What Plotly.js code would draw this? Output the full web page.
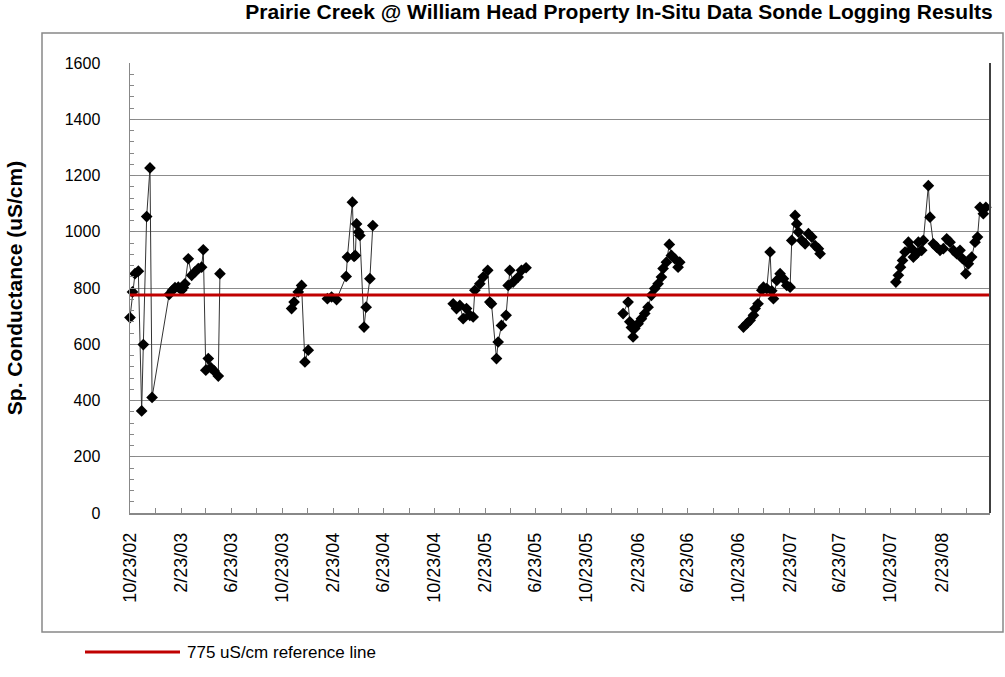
<!DOCTYPE html>
<html>
<head>
<meta charset="utf-8">
<script src="https://cdn.plot.ly/plotly-3.0.1.min.js"></script>
<style>
  html, body { margin: 0; padding: 0; background: #ffffff; }
  #chart { width: 1005px; height: 677px; }
</style>
</head>
<body>
<div id="chart"></div>
<script>
// ---- Data ----
const chartTitle = 'Prairie Creek @ William Head Property In-Situ Data Sonde Logging Results';
const yTitle = 'Sp. Conductance (uS/cm)';
const refLabel = '775 uS/cm reference line';
const refValue = 775;

const xStart = '2002-10-23';
const xEnd = '2008-06-18';

const tickDates = ['2002-10-23','2003-02-23','2003-06-23','2003-10-23','2004-02-23','2004-06-23',
  '2004-10-23','2005-02-23','2005-06-23','2005-10-23','2006-02-23','2006-06-23',
  '2006-10-23','2007-02-23','2007-06-23','2007-10-23','2008-02-23'];
const tickLabels = ['10/23/02','2/23/03','6/23/03','10/23/03','2/23/04','6/23/04',
  '10/23/04','2/23/05','6/23/05','10/23/05','2/23/06','6/23/06',
  '10/23/06','2/23/07','6/23/07','10/23/07','2/23/08'];
const minorDates = ['2002-12-23','2003-04-23','2003-08-23','2003-12-23','2004-04-23','2004-08-23',
  '2004-12-23','2005-04-23','2005-08-23','2005-12-23','2006-04-23','2006-08-23',
  '2006-12-23','2007-04-23','2007-08-23','2007-12-23','2008-04-23'];

const dates2002 = ['2002-10-23','2002-10-29','2002-11-04','2002-11-12','2002-11-20','2002-11-24',
  '2002-12-02','2002-12-10','2002-12-15','2003-01-25','2003-02-02','2003-02-08','2003-02-16',
  '2003-02-24','2003-02-28','2003-03-04','2003-03-12','2003-03-20','2003-03-28','2003-04-05',
  '2003-04-13','2003-04-17','2003-04-23','2003-04-29','2003-05-05','2003-05-13','2003-05-23','2003-05-27'];
const values2002 = [695, 786, 851, 860, 363, 599, 1054, 1227, 411, 777, 792, 801, 803,
  792, 801, 815, 904, 845, 857, 869, 874, 936, 508, 549, 517, 505, 487, 851];

const dates2003 = ['2003-11-15','2003-11-21','2003-12-01','2003-12-09','2003-12-17','2003-12-25'];
const values2003 = [727, 750, 786, 809, 537, 579];

const dates2004 = ['2004-02-09','2004-02-19','2004-03-02','2004-03-25','2004-03-28','2004-04-09',
  '2004-04-13','2004-04-16','2004-04-19','2004-04-24','2004-04-27','2004-05-07','2004-05-12',
  '2004-05-21','2004-05-28'];
const values2004 = [762, 768, 759, 841, 910, 1105, 912, 916, 1028, 999, 987, 661, 732, 833, 1022];

const dates2005 = ['2004-12-07','2004-12-15','2004-12-23','2004-12-31','2005-01-08','2005-01-16',
  '2005-01-24','2005-01-28','2005-02-09','2005-02-17','2005-02-28','2005-03-05','2005-03-09',
  '2005-03-21','2005-03-25','2005-04-02','2005-04-13','2005-04-18','2005-04-22','2005-04-30',
  '2005-05-12','2005-05-20','2005-05-31'];
const values2005 = [744, 727, 738, 691, 727, 703, 697, 792, 815, 839, 863, 750, 744,
  549, 608, 667, 703, 809, 863, 821, 839, 863, 872];

const dates2006 = ['2006-01-19','2006-01-31','2006-02-04','2006-02-08','2006-02-12','2006-02-16',
  '2006-02-24','2006-03-04','2006-03-12','2006-03-20','2006-03-28','2006-04-05','2006-04-13',
  '2006-04-21','2006-04-25','2006-05-03','2006-05-10','2006-05-15','2006-05-23','2006-05-31','2006-06-04'];
const values2006 = [709, 750, 680, 660, 626, 656, 673, 691, 709, 732, 774, 798, 815,
  839, 869, 892, 955, 916, 904, 874, 892];

const dates2007 = ['2006-11-04','2006-11-12','2006-11-20','2006-11-28','2006-12-02','2006-12-09',
  '2006-12-18','2006-12-22','2006-12-30','2007-01-07','2007-01-11','2007-01-15','2007-01-23',
  '2007-01-31','2007-02-08','2007-02-16','2007-02-24','2007-02-28','2007-03-08','2007-03-12',
  '2007-03-16','2007-03-24','2007-04-01','2007-04-09','2007-04-17','2007-04-25','2007-05-03','2007-05-07'];
const values2007 = [661, 673, 685, 703, 727, 744, 792, 803, 798, 928, 790, 762, 827,
  851, 833, 809, 803, 969, 1058, 1028, 999, 969, 957, 993, 981, 951, 940, 922];

const dates2008 = ['2007-11-05','2007-11-11','2007-11-16','2007-11-21','2007-11-27','2007-12-05',
  '2007-12-13','2007-12-17','2007-12-25','2007-12-29','2008-01-06','2008-01-10','2008-01-22',
  '2008-01-26','2008-02-03','2008-02-11','2008-02-19','2008-02-27','2008-03-06','2008-03-14',
  '2008-03-22','2008-03-30','2008-04-07','2008-04-13','2008-04-21','2008-04-27','2008-05-05',
  '2008-05-13','2008-05-19','2008-05-25','2008-06-02','2008-06-08'];
const values2008 = [821, 845, 874, 898, 928, 963, 940, 910, 922, 963, 934, 969, 1164,
  1052, 957, 945, 934, 940, 975, 963, 934, 922, 934, 904, 851, 886, 910, 963, 981, 1087, 1064, 1087];

// ---- Chart ----
const FONT = 'Arial, "Liberation Sans", sans-serif';
const deployments = [
  [dates2002, values2002], [dates2003, values2003], [dates2004, values2004],
  [dates2005, values2005], [dates2006, values2006], [dates2007, values2007], [dates2008, values2008]
];

const traces = deployments.map(([d, v]) => ({
  type: 'scatter', mode: 'lines+markers', x: d, y: v,
  line: { color: '#333333', width: 1 },
  marker: { symbol: 'diamond', size: 9, color: '#000000' },
  showlegend: false, cliponaxis: false, hoverinfo: 'x+y'
}));

traces.push({
  type: 'scatter', mode: 'lines', x: [xStart, xEnd], y: [refValue, refValue],
  line: { color: '#C00000', width: 3 }, name: refLabel, showlegend: false
});

// pixel helpers for paper coords (plot area: x 130..990, y 63..513)
const L = 130, R = 990, T = 63, B = 513;
const px = v => (v - L) / (R - L);
const py = v => (B - v) / (B - T);

const layout = {
  width: 1005, height: 677,
  margin: { l: L, r: 1005 - R, t: T, b: 677 - B, pad: 0 },
  paper_bgcolor: '#ffffff', plot_bgcolor: '#ffffff',
  font: { family: FONT, color: '#000000', size: 16 },
  title: {
    text: '<b>' + chartTitle + '</b>',
    font: { family: FONT, size: 21, color: '#000000' },
    xref: 'paper', x: px(619), xanchor: 'center',
    yref: 'container', y: 1 - 12 / 677, yanchor: 'middle'
  },
  xaxis: {
    type: 'date', range: [xStart, xEnd],
    tickmode: 'array', tickvals: tickDates, ticktext: tickLabels,
    tickangle: -90, tickfont: { family: FONT, size: 18, color: '#000000' },
    ticks: 'inside', ticklen: 5, tickcolor: '#888888', tickwidth: 1,
    ticklabelstandoff: 11,
    minor: { tickmode: 'array', tickvals: minorDates, ticks: 'inside', ticklen: 5, tickcolor: '#888888', showgrid: false },
    showgrid: false, zeroline: false,
    showline: true, linecolor: '#888888', linewidth: 1.5
  },
  yaxis: {
    range: [0, 1600], tickmode: 'linear', tick0: 0, dtick: 200,
    tickfont: { family: FONT, size: 16, color: '#000000' },
    ticks: 'inside', ticklen: 5, tickcolor: '#888888', tickwidth: 1,
    ticklabelstandoff: 25,
    minor: { dtick: 40, ticks: 'inside', ticklen: 4, tickcolor: '#888888', showgrid: false },
    showgrid: true, gridcolor: '#8c8c8c', gridwidth: 1, zeroline: false,
    showline: true, linecolor: '#888888', linewidth: 1.5,
    title: { text: '<b>' + yTitle + '</b>', font: { family: FONT, size: 21, color: '#000000' }, standoff: 36 }
  },
  shapes: [
    { type: 'rect', xref: 'paper', yref: 'paper', x0: px(42), x1: px(1003), y0: py(632), y1: py(33),
      line: { color: '#888888', width: 1.5 }, layer: 'below' },
    { type: 'line', xref: 'paper', yref: 'paper', x0: 1, x1: 1, y0: 0, y1: 1,
      line: { color: '#404040', width: 2 } },
    { type: 'line', xref: 'paper', yref: 'paper', x0: px(85), x1: px(180), y0: py(652), y1: py(652),
      line: { color: '#C00000', width: 3 } }
  ],
  annotations: [
    { xref: 'paper', yref: 'paper', x: px(185), y: py(652), xanchor: 'left', yanchor: 'middle',
      text: refLabel, showarrow: false, font: { family: FONT, size: 17, color: '#000000' } }
  ],
  showlegend: false
};

Plotly.newPlot('chart', traces, layout, { displayModeBar: false, staticPlot: true });
</script>
</body>
</html>
